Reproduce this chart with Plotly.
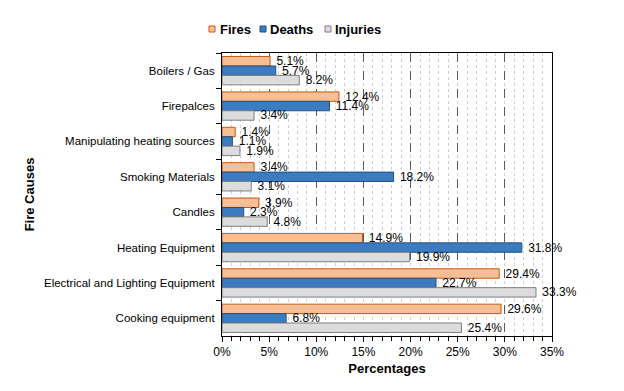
import plotly.graph_objects as go

categories = ["Boilers / Gas", "Firepalces", "Manipulating heating sources", "Smoking Materials",
              "Candles", "Heating Equipment", "Electrical and Lighting Equipment", "Cooking equipment"]
fires = [5.1, 12.4, 1.4, 3.4, 3.9, 14.9, 29.4, 29.6]
deaths = [5.7, 11.4, 1.1, 18.2, 2.3, 31.8, 22.7, 6.8]
injuries = [8.2, 3.4, 1.9, 3.1, 4.8, 19.9, 33.3, 25.4]
x_ticks = [0, 5, 10, 15, 20, 25, 30, 35]

series = [
    ("Fires", fires, "#F8BF96", "#C55A11"),
    ("Deaths", deaths, "#3C7BBF", "#24527F"),
    ("Injuries", injuries, "#DCDCDC", "#7F7F7F"),
]

OFF = 8  # default page body margin
W, H = 616, 383
L, R, T, B = 214, 72, 45, 55
PW, PH = W - L - R, H - T - B

def px_x(p):
    return (p - OFF - L) / PW

def px_y(p):
    return (H - B - (p - OFF)) / PH

fig = go.Figure()
for name, vals, fill, edge in series:
    fig.add_trace(go.Bar(
        y=categories, x=vals, name=name, orientation="h",
        marker=dict(color=fill, line=dict(color=edge, width=1)),
        text=["\u00a0" + f"{v:.1f}%" for v in vals], textposition="outside",
        constraintext="none",
        textfont=dict(size=12, color="#000000", family="Liberation Sans, Arial"),
        cliponaxis=False, showlegend=False,
    ))

# compact legend (squares + bold labels)
legend_pos = [(209, 218), (260, 268), (325, 333)]
shapes = []
annotations = []
for (name, vals, fill, edge), (sq, tx) in zip(series, legend_pos):
    shapes.append(dict(type="rect", xref="paper", yref="paper",
                       x0=px_x(sq), x1=px_x(sq + 6), y0=px_y(32), y1=px_y(26),
                       fillcolor=fill, line=dict(color=edge, width=1)))
    annotations.append(dict(xref="paper", yref="paper", x=px_x(tx), y=px_y(29),
                            xanchor="left", yanchor="middle", showarrow=False,
                            text=f"<b>{name}</b>",
                            font=dict(size=13, color="#000000", family="Liberation Sans, Arial")))

fig.update_layout(
    width=W, height=H,
    barmode="group", bargap=0.2, bargroupgap=0,
    plot_bgcolor="white", paper_bgcolor="white",
    margin=dict(l=L, r=R, t=T, b=B),
    font=dict(family="Liberation Sans, Arial", size=11, color="#000000"),
    showlegend=False,
    shapes=shapes, annotations=annotations,
    xaxis=dict(
        range=[0, 35], tickvals=x_ticks, ticktext=[f"{t}%" for t in x_ticks],
        showgrid=True, gridcolor="#595959", griddash="dash", gridwidth=1,
        showline=True, linecolor="#000000", linewidth=1, mirror=True,
        ticks="outside", ticklen=5, tickcolor="#000000",
        tickfont=dict(size=12),
        minor=dict(dtick=1, showgrid=True, gridcolor="#D0D0D0", griddash="dot",
                   ticks="outside", ticklen=4, tickcolor="#000000"),
        zeroline=False, automargin=True,
        title=dict(text="<b>Percentages</b>", font=dict(size=13), standoff=5),
    ),
    yaxis=dict(
        autorange="reversed", showline=True, linecolor="#000000", linewidth=1, mirror=True,
        ticks="outside", ticklen=5, tickcolor="#000000", tickson="boundaries",
        ticklabelstandoff=4,
        showgrid=False, automargin=True, tickfont=dict(size=11.5),
        title=dict(text="<b>Fire Causes</b>", font=dict(size=13), standoff=6),
    ),
)

fig.write_html("out.html")
